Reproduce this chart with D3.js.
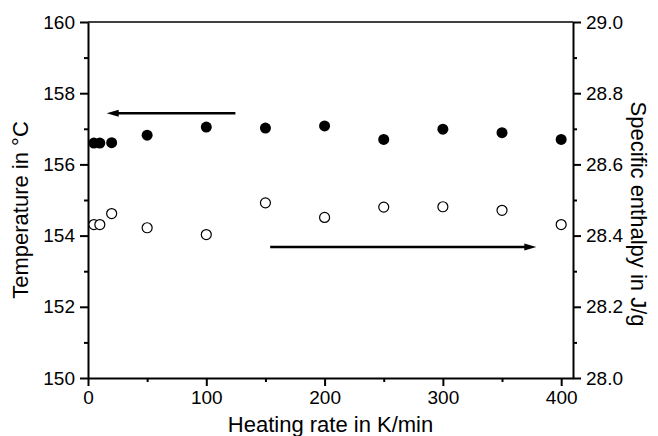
<!DOCTYPE html>
<html>
<head>
<meta charset="utf-8">
<script src="https://cdn.jsdelivr.net/npm/d3@7"></script>
<style>
  body { margin: 0; background: #fff; }
  text { font-family: "Liberation Sans", Arial, sans-serif; fill: #000; }
</style>
</head>
<body>
<div id="chart"></div>
<script>
// heating rate in K/min
var rates = [5, 10, 20, 50, 100, 150, 200, 250, 300, 350, 400];
// peak temperature, left axis (filled)
var temps = [156.60, 156.60, 156.61, 156.82, 157.05, 157.02, 157.08, 156.70, 156.99, 156.89, 156.70];
// specific enthalpy, right axis (open)
var enthalpy = [28.431, 28.431, 28.462, 28.422, 28.403, 28.492, 28.451, 28.480, 28.481, 28.471, 28.431];

var xTicks = [0, 100, 200, 300, 400];
var yLeftTicks = [150, 152, 154, 156, 158, 160];
var yRightTicks = [28.0, 28.2, 28.4, 28.6, 28.8, 29.0];

// set the dimensions and margins of the graph
var margin = {top: 22, right: 85, bottom: 58, left: 88},
    width = 658 - margin.left - margin.right,
    height = 436 - margin.top - margin.bottom;

var svg = d3.select("#chart")
  .append("svg")
    .attr("width", 658)
    .attr("height", 436)
  .append("g")
    .attr("transform", "translate(" + margin.left + "," + margin.top + ")");

var x = d3.scaleLinear().domain([0, 410]).range([0, width]);
var yL = d3.scaleLinear().domain([150, 160]).range([height, 0]);
var yR = d3.scaleLinear().domain([28, 29]).range([height, 0]);

// minor ticks first
svg.append("g")
  .attr("class", "minor")
  .attr("transform", "translate(0," + height + ")")
  .call(d3.axisBottom(x).tickValues([50, 150, 250, 350]).tickSize(4).tickFormat(""));
svg.append("g")
  .attr("class", "minor")
  .call(d3.axisLeft(yL).tickValues([151, 153, 155, 157, 159]).tickSize(4).tickFormat(""));
svg.append("g")
  .attr("class", "minor")
  .attr("transform", "translate(" + width + ",0)")
  .call(d3.axisRight(yR).tickValues([28.1, 28.3, 28.5, 28.7, 28.9]).tickSize(4).tickFormat(""));

// major axes
svg.append("g")
  .attr("transform", "translate(0," + height + ")")
  .call(d3.axisBottom(x).tickValues(xTicks).tickSize(8).tickPadding(5).tickSizeOuter(0));
svg.append("g")
  .call(d3.axisLeft(yL).tickValues(yLeftTicks).tickSize(8).tickPadding(5).tickSizeOuter(0));
svg.append("g")
  .attr("transform", "translate(" + width + ",0)")
  .call(d3.axisRight(yR).tickValues(yRightTicks).tickSize(8).tickPadding(5).tickSizeOuter(0)
    .tickFormat(d3.format(".1f")));

svg.selectAll(".domain").attr("stroke-width", 2);
svg.selectAll(".minor .domain").remove();
svg.selectAll(".tick line").attr("stroke-width", 2);
svg.selectAll(".tick text").style("font-size", "19px");

// top frame line
svg.append("line")
  .attr("x1", 0).attr("x2", width)
  .attr("y1", 0).attr("y2", 0)
  .attr("stroke", "#000")
  .attr("stroke-width", 1.5);

// axis titles
svg.append("text")
  .attr("x", width / 2)
  .attr("y", height + 54)
  .attr("text-anchor", "middle")
  .style("font-size", "22px")
  .text("Heating rate in K/min");

svg.append("text")
  .attr("transform", "translate(" + (-60) + "," + (height / 2 + 10) + ") rotate(-90)")
  .attr("text-anchor", "middle")
  .style("font-size", "22px")
  .text("Temperature in °C");

svg.append("text")
  .attr("transform", "translate(" + (width + 58) + "," + (height / 2 + 14) + ") rotate(90)")
  .attr("text-anchor", "middle")
  .style("font-size", "22px")
  .text("Specific enthalpy in J/g");

// arrows pointing at the axis each series belongs to
function arrow(x1, x2, yy) {
  var dir = x2 > x1 ? 1 : -1;
  svg.append("line")
    .attr("x1", x1).attr("x2", x2 - dir * 8)
    .attr("y1", yy).attr("y2", yy)
    .attr("stroke", "#000")
    .attr("stroke-width", 2.5);
  svg.append("path")
    .attr("d", "M" + x2 + "," + yy + "L" + (x2 - dir * 12) + "," + (yy - 3.5) +
               "L" + (x2 - dir * 12) + "," + (yy + 3.5) + "Z")
    .attr("fill", "#000");
}
arrow(x(124.6), x(15.8), yL(157.44));
arrow(x(154), x(379), yR(28.368));

// open circles: enthalpy
svg.selectAll("circle.open")
  .data(rates)
  .enter()
  .append("circle")
  .attr("class", "open")
  .attr("cx", function(d) { return x(d); })
  .attr("cy", function(d, i) { return yR(enthalpy[i]); })
  .attr("r", 5)
  .attr("fill", "#fff")
  .attr("stroke", "#000")
  .attr("stroke-width", 1.2);

// filled circles: temperature
svg.selectAll("circle.filled")
  .data(rates)
  .enter()
  .append("circle")
  .attr("class", "filled")
  .attr("cx", function(d) { return x(d); })
  .attr("cy", function(d, i) { return yL(temps[i]); })
  .attr("r", 5.5)
  .attr("fill", "#000");
</script>
</body>
</html>
